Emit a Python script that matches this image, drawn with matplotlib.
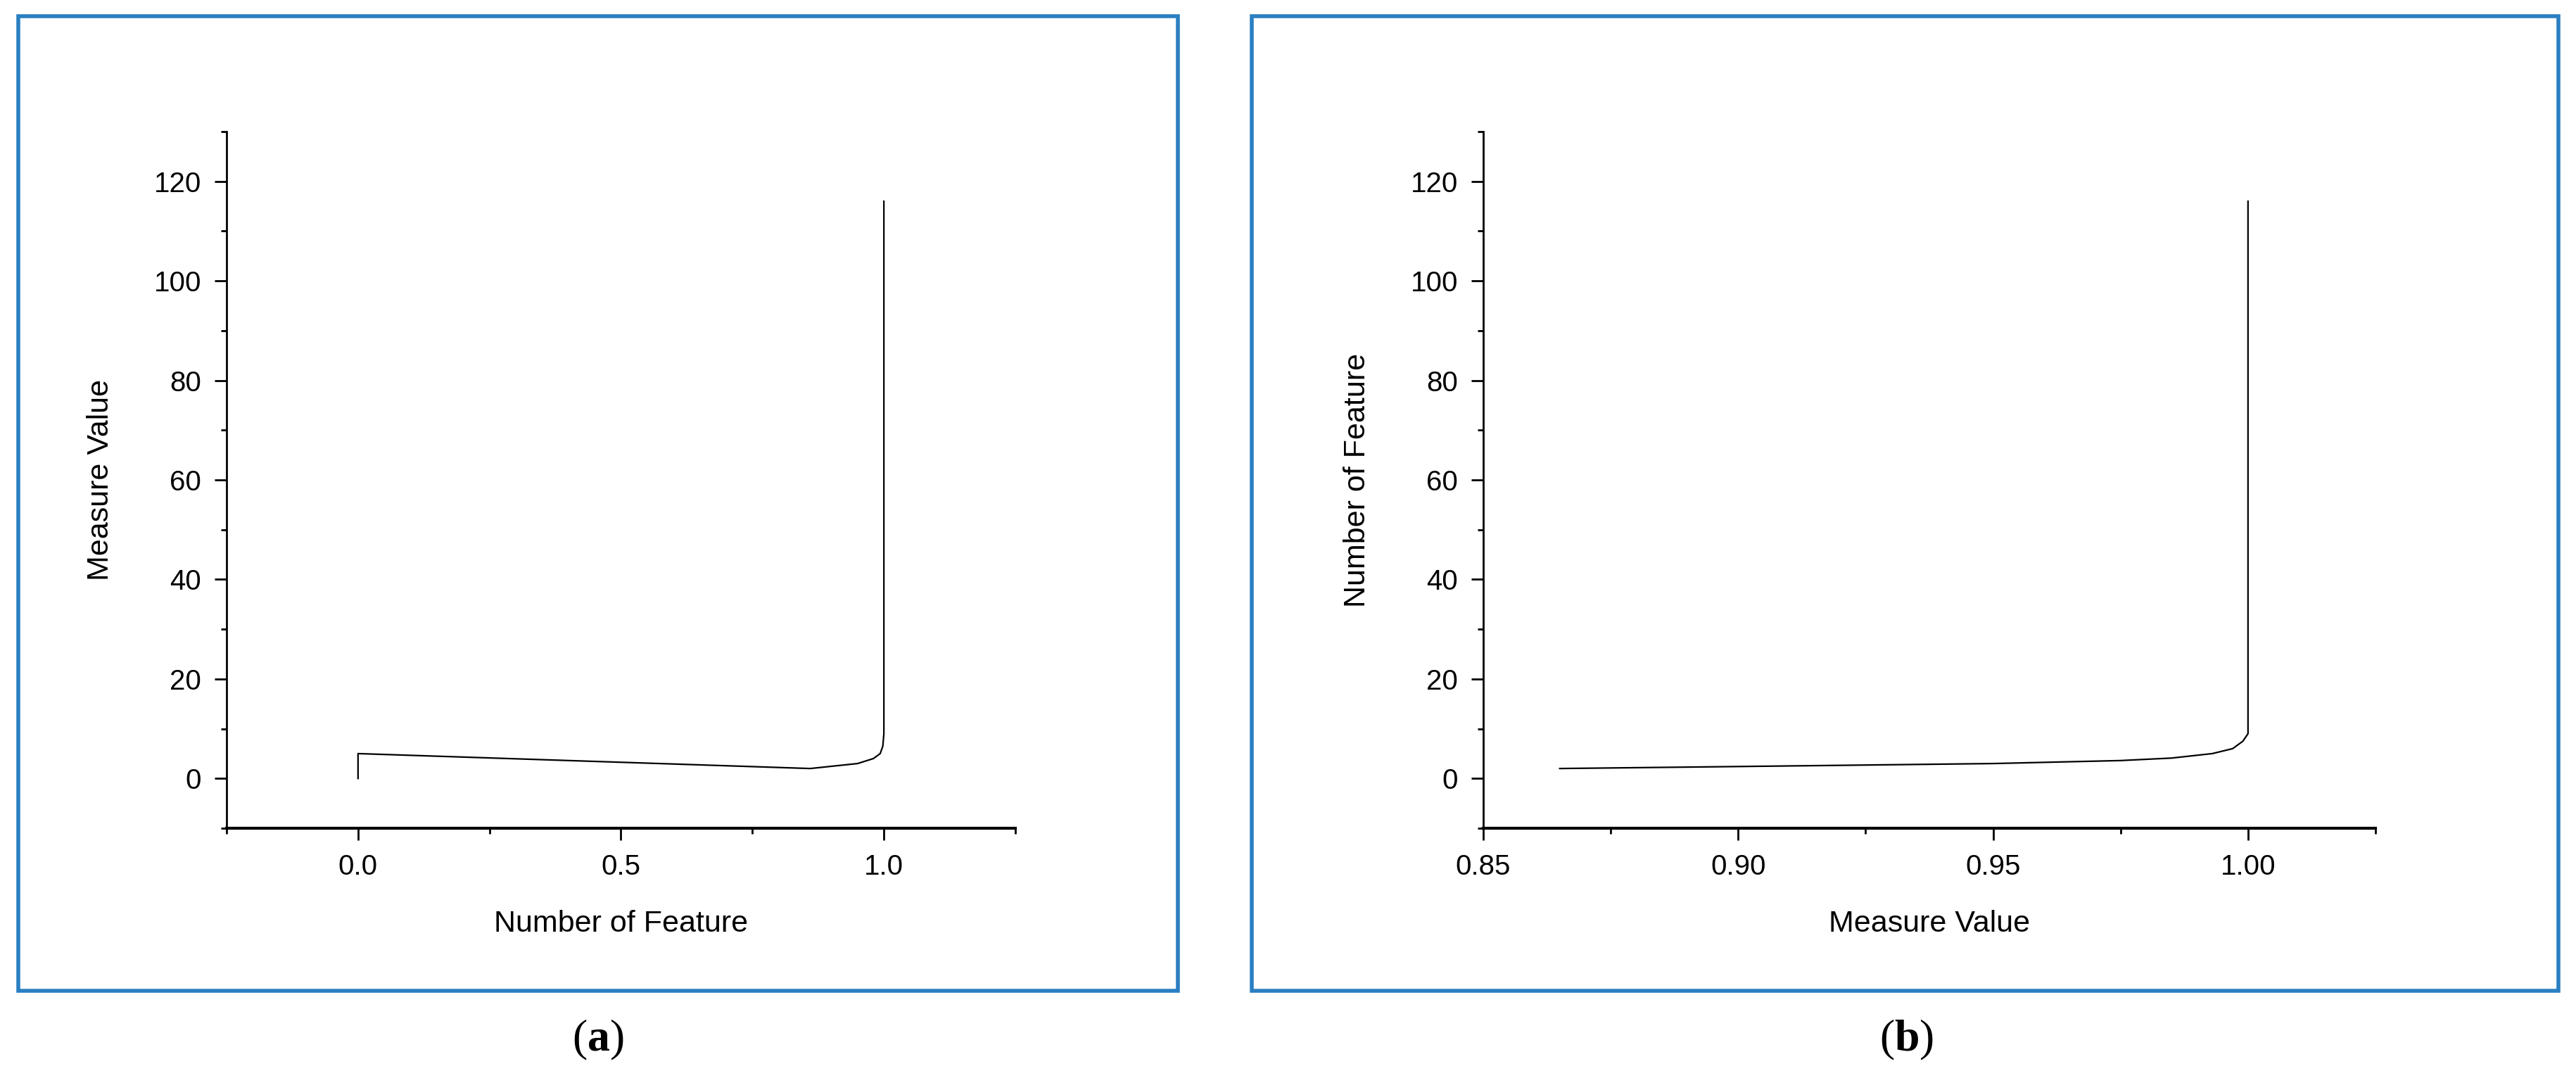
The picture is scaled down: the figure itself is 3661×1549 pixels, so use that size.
import matplotlib
matplotlib.use("Agg")
import matplotlib.pyplot as plt
from matplotlib.patches import Rectangle
from matplotlib.ticker import MultipleLocator, FormatStrFormatter

# panel (a): Number of Feature vs Measure Value
a_x = [0.0, 0.0, 0.86, 0.95, 0.98, 0.993, 0.998, 1.0, 1.0]
a_y = [0.0, 5.0, 2.0, 3.0, 4.0, 5.0, 6.5, 9.0, 116.0]

# panel (b): Measure Value vs Number of Feature
b_x = [0.865, 0.90, 0.95, 0.975, 0.985, 0.993, 0.997, 0.999, 1.0, 1.0]
b_y = [2.0, 2.4, 3.0, 3.6, 4.1, 5.0, 6.0, 7.5, 9.0, 116.0]

plt.rcParams["mathtext.fontset"] = "custom"
plt.rcParams["mathtext.bf"] = "Liberation Serif:bold"
plt.rcParams["mathtext.rm"] = "Liberation Serif"

W, H = 3662, 1549
fig = plt.figure(figsize=(W / 100, H / 100), dpi=100)
sans = ["Liberation Sans", "DejaVu Sans"]

def box(x0, x1, y0, y1):
    fig.patches.append(Rectangle((x0 / W, 1 - y1 / H), (x1 - x0) / W, (y1 - y0) / H,
                                 transform=fig.transFigure, fill=False,
                                 edgecolor="#2a7fc1", lw=4))

def panel(left, right, x, y, xlim, xmaj, xmin, xlabel, ylabel):
    ax = fig.add_axes([left / W, 1 - 1177 / H, (right - left) / W, (1177 - 187) / H])
    ax.plot(x, y, color="black", lw=1.6)
    ax.set_xlim(*xlim)
    ax.set_ylim(-10, 130)
    ax.xaxis.set_major_locator(MultipleLocator(xmaj))
    ax.xaxis.set_minor_locator(MultipleLocator(xmin))
    ax.yaxis.set_major_locator(MultipleLocator(20))
    ax.yaxis.set_minor_locator(MultipleLocator(10))
    for s in ["top", "right"]:
        ax.spines[s].set_visible(False)
    ax.spines["left"].set_linewidth(2)
    ax.spines["bottom"].set_linewidth(3)
    ax.tick_params(which="major", length=12, width=2, labelsize=29, pad=14)
    ax.tick_params(which="minor", length=6, width=2)
    for t in ax.get_xticklabels() + ax.get_yticklabels():
        t.set_family(sans)
    ax.set_xlabel(xlabel, fontsize=31, family=sans, labelpad=30)
    ax.set_ylabel(ylabel, fontsize=31, family=sans, labelpad=40)
    return ax

box(26, 1674, 23, 1408)
box(1779, 3636, 23, 1408)

axa = panel(322, 1443, a_x, a_y, (-0.25, 1.25), 0.5, 0.25, "Number of Feature", "Measure Value")
axa.xaxis.set_major_formatter(FormatStrFormatter("%.1f"))
axb = panel(2108, 3376, b_x, b_y, (0.85, 1.025), 0.05, 0.025, "Measure Value", "Number of Feature")
axb.xaxis.set_major_formatter(FormatStrFormatter("%.2f"))

fig.text(850 / W, 1 - 1478 / H, r"$\mathrm{(}\mathbf{a}\mathrm{)}$", fontsize=46, ha="center", va="center")
fig.text(2710 / W, 1 - 1478 / H, r"$\mathrm{(}\mathbf{b}\mathrm{)}$", fontsize=46, ha="center", va="center")

fig.savefig("out.png", dpi=100)
